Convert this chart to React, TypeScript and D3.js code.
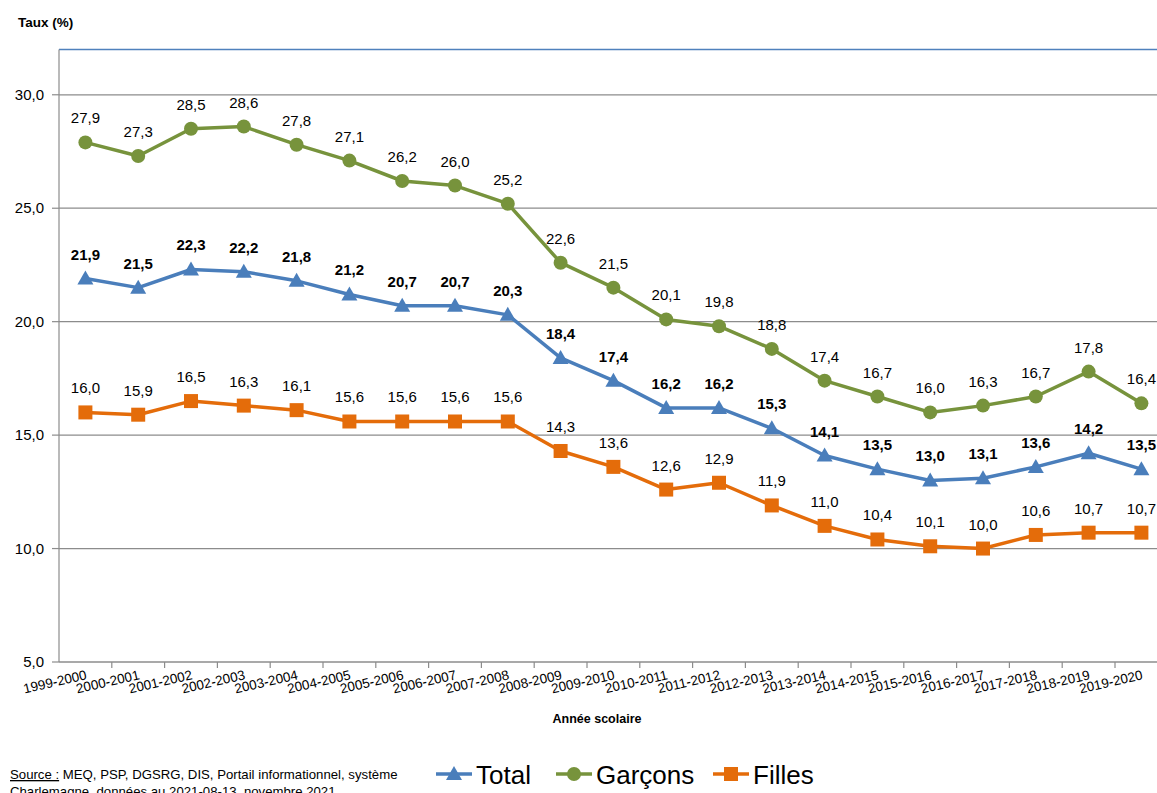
import React, { useEffect, useRef } from 'react';
import * as d3 from 'd3';

const years = [
  '1999-2000', '2000-2001', '2001-2002', '2002-2003', '2003-2004', '2004-2005', '2005-2006',
  '2006-2007', '2007-2008', '2008-2009', '2009-2010', '2010-2011', '2011-2012', '2012-2013',
  '2013-2014', '2014-2015', '2015-2016', '2016-2017', '2017-2018', '2018-2019', '2019-2020',
];
const total = [21.9, 21.5, 22.3, 22.2, 21.8, 21.2, 20.7, 20.7, 20.3, 18.4, 17.4, 16.2, 16.2, 15.3, 14.1, 13.5, 13.0, 13.1, 13.6, 14.2, 13.5];
const garcons = [27.9, 27.3, 28.5, 28.6, 27.8, 27.1, 26.2, 26.0, 25.2, 22.6, 21.5, 20.1, 19.8, 18.8, 17.4, 16.7, 16.0, 16.3, 16.7, 17.8, 16.4];
const filles = [16.0, 15.9, 16.5, 16.3, 16.1, 15.6, 15.6, 15.6, 15.6, 14.3, 13.6, 12.6, 12.9, 11.9, 11.0, 10.4, 10.1, 10.0, 10.6, 10.7, 10.7];
const yTicks = [5, 10, 15, 20, 25, 30];

const FONT = "'Liberation Sans', Arial, sans-serif";
const fmt = (v: number) => v.toFixed(1).replace('.', ',');

const series = [
  { name: 'Total', values: total, color: '#4a7ebb', marker: 'triangle', bold: true },
  { name: 'Garçons', values: garcons, color: '#77933c', marker: 'circle', bold: false },
  { name: 'Filles', values: filles, color: '#e46c0a', marker: 'square', bold: false },
];

const App = () => {
  const svgRef = useRef<SVGSVGElement>(null);

  useEffect(() => {
    if (!svgRef.current) return;
    const width = 1157;
    const svg = d3.select(svgRef.current);
    svg.selectAll('*').remove();

    const left = 59;
    const x = d3.scaleBand<string>().domain(years).range([left, left + 52.8 * years.length]);
    const y = d3.scaleLinear().domain([5, 32]).range([662, 49.4]);
    const cx = (i: number) => (x(years[i]) as number) + x.bandwidth() / 2;

    // gridlines
    svg.append('g')
      .selectAll('line')
      .data(yTicks.slice(1))
      .enter()
      .append('line')
      .attr('x1', left).attr('x2', width)
      .attr('y1', d => y(d)).attr('y2', d => y(d))
      .attr('stroke', '#8c8c8c').attr('stroke-width', 1.2);

    // top border
    svg.append('line')
      .attr('x1', left).attr('x2', width)
      .attr('y1', y(32)).attr('y2', y(32))
      .attr('stroke', '#4f81bd').attr('stroke-width', 1.5);

    // y axis
    const yAxis = svg.append('g');
    yAxis.append('line')
      .attr('x1', left).attr('x2', left)
      .attr('y1', y(32)).attr('y2', y(5))
      .attr('stroke', '#8c8c8c').attr('stroke-width', 1.2);
    yAxis.selectAll('line.t')
      .data(yTicks)
      .enter()
      .append('line')
      .attr('class', 't')
      .attr('x1', left - 7).attr('x2', left)
      .attr('y1', d => y(d)).attr('y2', d => y(d))
      .attr('stroke', '#8c8c8c').attr('stroke-width', 1.2);
    yAxis.selectAll('text')
      .data(yTicks)
      .enter()
      .append('text')
      .attr('x', 44).attr('y', d => y(d) + 5)
      .attr('text-anchor', 'end')
      .attr('font-family', FONT).attr('font-size', 15).attr('fill', '#000')
      .text(d => fmt(d));

    // x axis
    const xAxis = svg.append('g');
    xAxis.append('line')
      .attr('x1', left).attr('x2', width)
      .attr('y1', y(5)).attr('y2', y(5))
      .attr('stroke', '#8c8c8c').attr('stroke-width', 1.5);
    xAxis.selectAll('line.t')
      .data(years)
      .enter()
      .append('line')
      .attr('class', 't')
      .attr('x1', d => (x(d) as number) + x.bandwidth()).attr('x2', d => (x(d) as number) + x.bandwidth())
      .attr('y1', y(5)).attr('y2', y(5) + 6)
      .attr('stroke', '#8c8c8c').attr('stroke-width', 1.2);
    xAxis.selectAll('text')
      .data(years)
      .enter()
      .append('text')
      .attr('transform', (d, i) => `translate(${cx(i) + 2},${y(5) + 17}) rotate(-13)`)
      .attr('text-anchor', 'end')
      .attr('font-family', FONT).attr('font-size', 13.5).attr('fill', '#000')
      .text(d => d);

    // axis titles
    svg.append('text')
      .attr('x', 18).attr('y', 27)
      .attr('font-family', FONT).attr('font-size', 13.5).attr('font-weight', 'bold')
      .text('Taux (%)');
    svg.append('text')
      .attr('x', 597).attr('y', 723)
      .attr('text-anchor', 'middle')
      .attr('font-family', FONT).attr('font-size', 12.5).attr('font-weight', 'bold')
      .text('Année scolaire');

    const drawMarker = (g: any, kind: string, px: number, py: number, color: string) => {
      if (kind === 'circle') {
        g.append('circle').attr('cx', px).attr('cy', py).attr('r', 7).attr('fill', color);
      } else if (kind === 'square') {
        g.append('rect').attr('x', px - 7).attr('y', py - 7).attr('width', 14).attr('height', 14).attr('fill', color);
      } else {
        g.append('path')
          .attr('d', `M${px},${py - 8}L${px + 8},${py + 6}L${px - 8},${py + 6}Z`)
          .attr('fill', color);
      }
    };

    const line = d3.line<number>().x((d, i) => cx(i)).y(d => y(d));

    series.forEach(s => {
      const g = svg.append('g');
      g.append('path')
        .datum(s.values)
        .attr('d', line)
        .attr('fill', 'none')
        .attr('stroke', s.color)
        .attr('stroke-width', 3.5)
        .attr('stroke-linejoin', 'round');
      s.values.forEach((v, i) => drawMarker(g, s.marker, cx(i), y(v), s.color));
      g.selectAll('text')
        .data(s.values)
        .enter()
        .append('text')
        .attr('x', (d, i) => cx(i))
        .attr('y', d => y(d) - 19)
        .attr('text-anchor', 'middle')
        .attr('font-family', FONT)
        .attr('font-size', 15)
        .attr('font-weight', s.bold ? 'bold' : 'normal')
        .attr('fill', '#000')
        .text(d => fmt(d));
    });

    // legend
    const legendItems = [
      { s: series[0], x: 436 },
      { s: series[1], x: 556 },
      { s: series[2], x: 713 },
    ];
    legendItems.forEach(({ s, x: lx }) => {
      const g = svg.append('g');
      g.append('line')
        .attr('x1', lx).attr('x2', lx + 36)
        .attr('y1', 774).attr('y2', 774)
        .attr('stroke', s.color).attr('stroke-width', 3.5);
      drawMarker(g, s.marker, lx + 18, 774, s.color);
      g.append('text')
        .attr('x', lx + 40).attr('y', 784)
        .attr('font-family', FONT).attr('font-size', 26).attr('fill', '#000')
        .text(s.name);
    });

    // source
    const src = svg.append('text')
      .attr('x', 10).attr('y', 779)
      .attr('font-family', FONT).attr('font-size', 13.2).attr('fill', '#000');
    src.append('tspan').attr('text-decoration', 'underline').text('Source :');
    src.append('tspan').text('  MEQ, PSP, DGSRG, DIS, Portail informationnel, système');
    svg.append('text')
      .attr('x', 10).attr('y', 796)
      .attr('font-family', FONT).attr('font-size', 13.2).attr('fill', '#000')
      .text('Charlemagne, données au 2021-08-13, novembre 2021');
  }, []);

  return (
    <div style={{ position: 'absolute', left: 0, top: 0, width: 1157, height: 793, background: '#fff' }}>
      <svg ref={svgRef} width={1157} height={793} style={{ display: 'block' }} />
    </div>
  );
};

export default App;
